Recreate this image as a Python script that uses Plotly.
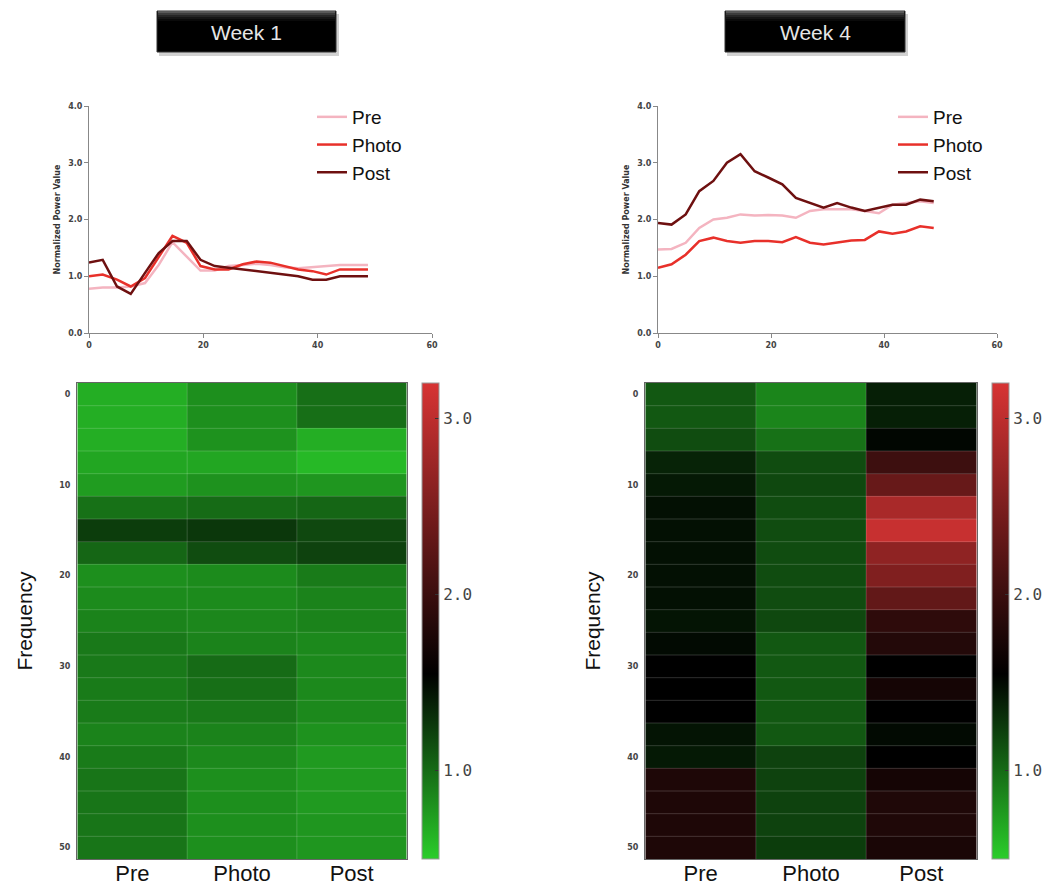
import plotly.graph_objects as go

W, H = 1047, 886

# ---- data -----------------------------------------------------------------
conditions = ["Pre", "Photo", "Post"]
weeks = ["Week 1", "Week 4"]

# frequency bins of the power spectra (Hz)
freq_hz = [0.0, 2.4, 4.9, 7.3, 9.8, 12.2, 14.6, 17.1, 19.5, 22.0, 24.4,
           26.9, 29.3, 31.7, 34.2, 36.6, 39.1, 41.5, 43.9, 46.4, 48.8]

# normalized power, week 1
w1_pre = [0.78, 0.80, 0.80, 0.82, 0.88, 1.20, 1.60, 1.35, 1.10, 1.10, 1.18,
          1.20, 1.22, 1.20, 1.16, 1.14, 1.16, 1.18, 1.20, 1.20, 1.20]
w1_photo = [1.00, 1.03, 0.94, 0.82, 0.97, 1.35, 1.71, 1.59, 1.18, 1.12, 1.12,
            1.21, 1.26, 1.24, 1.18, 1.12, 1.09, 1.03, 1.12, 1.12, 1.12]
w1_post = [1.24, 1.29, 0.82, 0.69, 1.06, 1.41, 1.62, 1.62, 1.29, 1.18, 1.15,
           1.12, 1.09, 1.06, 1.03, 1.00, 0.94, 0.94, 1.00, 1.00, 1.00]

# normalized power, week 4
w4_pre = [1.47, 1.48, 1.59, 1.85, 2.00, 2.03, 2.09, 2.07, 2.08, 2.07, 2.03,
          2.15, 2.18, 2.18, 2.18, 2.15, 2.11, 2.26, 2.29, 2.32, 2.29]
w4_photo = [1.15, 1.21, 1.38, 1.62, 1.68, 1.62, 1.59, 1.62, 1.62, 1.60, 1.69,
            1.59, 1.56, 1.59, 1.63, 1.64, 1.79, 1.75, 1.79, 1.88, 1.85]
w4_post = [1.94, 1.91, 2.09, 2.50, 2.68, 3.00, 3.15, 2.85, 2.74, 2.62, 2.38,
           2.29, 2.21, 2.29, 2.21, 2.15, 2.21, 2.26, 2.26, 2.35, 2.32]

# heat-map rows (Hz) and cell values per condition
heat_rows = [0, 2.5, 5, 7.5, 10, 12.5, 15, 17.5, 20, 22.5, 25,
             27.5, 30, 32.5, 35, 37.5, 40, 42.5, 45, 47.5, 50]

h1_pre = [0.66, 0.66, 0.66, 0.70, 0.75, 0.97, 1.24, 1.03, 0.82, 0.84, 0.88,
          0.93, 0.93, 0.92, 0.92, 0.88, 0.92, 0.95, 0.95, 0.95, 0.95]
h1_photo = [0.82, 0.82, 0.80, 0.70, 0.80, 1.00, 1.27, 1.16, 0.84, 0.84, 0.86,
            0.88, 1.00, 0.98, 0.93, 0.88, 0.85, 0.82, 0.82, 0.82, 0.82]
h1_post = [0.98, 0.98, 0.66, 0.60, 0.78, 1.03, 1.18, 1.21, 0.92, 0.88, 0.88,
           0.85, 0.85, 0.85, 0.85, 0.80, 0.76, 0.76, 0.76, 0.78, 0.78]

h4_pre = [1.10, 1.10, 1.16, 1.37, 1.42, 1.47, 1.47, 1.47, 1.47, 1.47, 1.45,
          1.50, 1.55, 1.55, 1.55, 1.45, 1.42, 1.78, 1.78, 1.78, 1.78]
h4_photo = [0.87, 0.87, 0.97, 1.16, 1.18, 1.16, 1.16, 1.16, 1.16, 1.16, 1.18,
            1.10, 1.10, 1.10, 1.10, 1.10, 1.21, 1.21, 1.21, 1.21, 1.24]
h4_post = [1.39, 1.39, 1.52, 2.02, 2.34, 2.85, 3.08, 2.65, 2.53, 2.30, 1.90,
           1.82, 1.55, 1.71, 1.55, 1.50, 1.55, 1.71, 1.79, 1.79, 1.75]

power_ticks = [0, 1, 2, 3, 4]
freq_ticks = [0, 20, 40, 60]
heat_ticks = [0, 10, 20, 30, 40, 50]
bar_ticks = [1, 2, 3]

# ---- styling --------------------------------------------------------------
line_colors = {"Pre": "#f4b4c0", "Photo": "#e8302a", "Post": "#6e1010"}
green_black_red = [[0.0, "rgb(42,205,42)"], [0.389, "rgb(0,0,0)"],
                   [1.0, "rgb(215,52,52)"]]
ZMIN, ZMAX = 0.5, 3.2


def px_x(p):
    return p / W


def px_y(p):
    return 1 - p / H


small_font = dict(family="DejaVu Sans, sans-serif", size=8, color="#444",
                  weight="bold")

fig = go.Figure()

line_sets = [
    dict(x="x", y="y", legend="legend", data=[w1_pre, w1_photo, w1_post]),
    dict(x="x2", y="y2", legend="legend2", data=[w4_pre, w4_photo, w4_post]),
]
for ls in line_sets:
    for name, vals in zip(conditions, ls["data"]):
        fig.add_trace(go.Scatter(
            x=freq_hz, y=vals, mode="lines", name=name,
            line=dict(color=line_colors[name], width=2.5),
            xaxis=ls["x"], yaxis=ls["y"], legend=ls["legend"],
        ))

heat_sets = [
    dict(x="x3", y="y3", z=[h1_pre, h1_photo, h1_post], cbx=422),
    dict(x="x4", y="y4", z=[h4_pre, h4_photo, h4_post], cbx=992),
]
for hs in heat_sets:
    z = [list(r) for r in zip(*hs["z"])]
    fig.add_trace(go.Heatmap(
        x=conditions, y=heat_rows, z=z,
        colorscale=green_black_red, zmin=ZMIN, zmax=ZMAX,
        xaxis=hs["x"], yaxis=hs["y"], showlegend=False,
        colorbar=dict(
            x=px_x(hs["cbx"]), xanchor="left", xpad=0, ypad=0,
            y=px_y((383 + 859) / 2), yanchor="middle",
            len=(859 - 383) / H, lenmode="fraction", thickness=17,
            outlinecolor="#999", outlinewidth=1,
            tickvals=bar_ticks, tickformat=".1f", ticks="inside",
            ticklen=4, tickcolor="#333",
            tickfont=dict(family="DejaVu Sans Mono, monospace", size=16,
                          color="#444"),
        ),
    ))

# faint separators between heat-map cells
for xa, ya in (("x3", "y3"), ("x4", "y4")):
    for a, b in zip(heat_rows[:-1], heat_rows[1:]):
        mid = (a + b) / 2
        fig.add_shape(type="line", xref=xa, yref=ya, x0=-0.5, x1=2.5,
                      y0=mid, y1=mid, layer="above",
                      line=dict(color="rgba(255,255,255,0.18)", width=1))
    for c in range(len(conditions) - 1):
        fig.add_shape(type="line", xref=xa, yref=ya, x0=c + 0.5, x1=c + 0.5,
                      y0=heat_rows[0] - 1.25, y1=heat_rows[-1] + 1.25,
                      layer="above",
                      line=dict(color="rgba(255,255,255,0.18)", width=1))

line_axis = dict(showline=True, linecolor="#888", linewidth=1, ticks="outside",
                 ticklen=4, tickcolor="#888", showgrid=False, zeroline=False,
                 tickfont=small_font, automargin=False)

for i, (x0, x1) in enumerate(((89, 432), (658, 997))):
    sx = "" if i == 0 else "2"
    fig.update_layout(**{
        f"xaxis{sx}": dict(line_axis, domain=[px_x(x0), px_x(x1)],
                           range=[0, 60], tickvals=freq_ticks,
                           anchor=f"y{sx}"),
        f"yaxis{sx}": dict(line_axis, domain=[px_y(333), px_y(106)],
                           range=[0, 4], tickvals=power_ticks,
                           tickformat=".1f", anchor=f"x{sx}",
                           title=dict(text="Normalized Power Value",
                                      font=dict(family="DejaVu Sans, sans-serif",
                                                size=8, color="#333",
                                                weight="bold"),
                                      standoff=6)),
    })

for i, (x0, x1) in enumerate(((77, 407), (645, 977))):
    n = 3 + i
    fig.update_layout(**{
        f"xaxis{n}": dict(domain=[px_x(x0), px_x(x1)], anchor=f"y{n}",
                          showline=True, mirror=True, linecolor="#666",
                          linewidth=1, ticks="", showgrid=False,
                          zeroline=False, automargin=False,
                          ticklabelstandoff=-5,
                          tickfont=dict(family="Liberation Sans, Arial",
                                        size=22, color="#111")),
        f"yaxis{n}": dict(domain=[px_y(859), px_y(383)], anchor=f"x{n}",
                          range=[heat_rows[-1] + 1.25, heat_rows[0] - 1.25],
                          tickvals=heat_ticks, showline=True, mirror=True,
                          linecolor="#666", linewidth=1, ticks="",
                          showgrid=False, zeroline=False, automargin=False,
                          ticklabelstandoff=4,
                          tickfont=dict(family="DejaVu Sans, sans-serif",
                                        size=8, color="#444", weight="bold"),
                          title=dict(text="Frequency", standoff=20,
                                     font=dict(family="Liberation Sans, Arial",
                                               size=21, color="#111"))),
    })

legend_style = dict(font=dict(family="Liberation Sans, Arial", size=19,
                              color="#111"),
                    bgcolor="rgba(0,0,0,0)", itemwidth=30, tracegroupgap=0,
                    yanchor="top", xanchor="left")
fig.update_layout(
    legend=dict(legend_style, x=px_x(312), y=px_y(98)),
    legend2=dict(legend_style, x=px_x(893), y=px_y(98)),
)

# week title plates
for label, (bx0, bx1) in zip(weeks, ((157, 336), (725, 905))):
    by0, by1 = 11, 52
    fig.add_shape(type="rect", xref="paper", yref="paper",
                  x0=px_x(bx0 + 2), x1=px_x(bx1 + 3), y0=px_y(by1 + 4),
                  y1=px_y(by0 + 3), fillcolor="rgba(0,0,0,0.18)",
                  line=dict(width=0), layer="below")
    fig.add_shape(type="rect", xref="paper", yref="paper",
                  x0=px_x(bx0), x1=px_x(bx1), y0=px_y(by1), y1=px_y(by0),
                  fillcolor="#000", line=dict(color="#333", width=1))
    shades = ["#5a5a5a", "#3c3c3c", "#262626", "#161616", "#0a0a0a"]
    for k, col in enumerate(shades):
        fig.add_shape(type="rect", xref="paper", yref="paper",
                      x0=px_x(bx0 + 1), x1=px_x(bx1 - 1),
                      y0=px_y(by0 + 2 + 2 * k), y1=px_y(by0 + 1 + 2 * k - 1),
                      fillcolor=col, line=dict(width=0))
    fig.add_annotation(text=label, xref="paper", yref="paper",
                       x=px_x((bx0 + bx1) / 2), y=px_y((by0 + by1) / 2 + 1),
                       showarrow=False, xanchor="center", yanchor="middle",
                       font=dict(family="Liberation Sans, Arial", size=21,
                                 color="#e6e6e6"))

fig.update_layout(
    width=W, height=H, margin=dict(l=0, r=0, t=0, b=0),
    paper_bgcolor="white", plot_bgcolor="white",
)

fig.write_html("out.html")
